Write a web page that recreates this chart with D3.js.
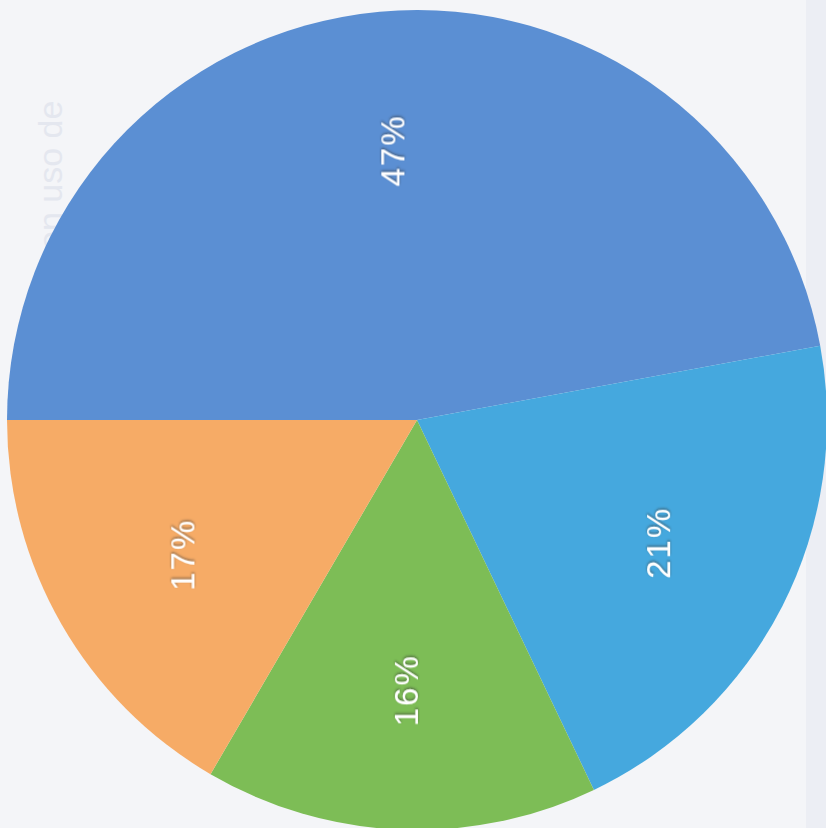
<!DOCTYPE html>
<html>
<head>
<meta charset="utf-8">
<script src="https://cdn.jsdelivr.net/npm/d3@7"></script>
<style>
html,body{margin:0;padding:0;background:#f4f5f8;}
svg{display:block;}
</style>
</head>
<body>
<svg id="chart" width="826" height="828"></svg>
<script>
const categories = ["A", "B", "C", "D"];
const values = [47.1, 20.8, 15.5, 16.6];
const labels = ["47%", "21%", "16%", "17%"];
const colors = ["#5b8fd3", "#45a8de", "#7dbd56", "#f6ab66"];

const W = 826, H = 828;
const cx = 417, cy = 420, R = 410;
const svg = d3.select("#chart");

// paper background
svg.append("rect").attr("width", W).attr("height", H).attr("fill", "#f4f5f8");
svg.append("rect").attr("x", 806).attr("y", 0).attr("width", 20).attr("height", H).attr("fill", "#eceef4");

// faint bleed-through text
svg.append("text")
  .attr("transform", "translate(62,250) rotate(-90)")
  .attr("font-family", "Liberation Sans, Arial, sans-serif")
  .attr("font-size", 34)
  .attr("fill", "#e4e7ef")
  .text("en uso de");

const color = d3.scaleOrdinal().domain(categories).range(colors);
const pie = d3.pie().sort(null).value(d => d.v)
  .startAngle(-Math.PI / 2).endAngle(3 * Math.PI / 2);
const data = categories.map((c, i) => ({c, v: values[i], l: labels[i]}));
const arcs = pie(data);
const arc = d3.arc().innerRadius(0).outerRadius(R);
const labelArc = d3.arc().innerRadius(R * 0.66).outerRadius(R * 0.66);

const g = svg.append("g").attr("transform", `translate(${cx},${cy})`);
g.selectAll("path").data(arcs).join("path")
  .attr("d", arc)
  .attr("fill", d => color(d.data.c));

const defs = svg.append("defs");
const f = defs.append("filter").attr("id", "sh").attr("x", "-20%").attr("y", "-20%").attr("width", "140%").attr("height", "140%");
f.append("feDropShadow").attr("dx", 1.5).attr("dy", 0).attr("stdDeviation", 1.2).attr("flood-color", "#333").attr("flood-opacity", 0.6);

g.selectAll("text.lbl").data(arcs).join("text")
  .attr("class", "lbl")
  .attr("transform", d => { const [x, y] = labelArc.centroid(d); return `translate(${x},${y}) rotate(-90)`; })
  .attr("text-anchor", "middle")
  .attr("dominant-baseline", "central")
  .attr("font-family", "Liberation Sans, Arial, sans-serif")
  .attr("font-size", 33)
  .attr("letter-spacing", 2)
  .attr("fill", "#ffffff")
  .attr("filter", "url(#sh)")
  .text(d => d.data.l);
</script>
</body>
</html>
